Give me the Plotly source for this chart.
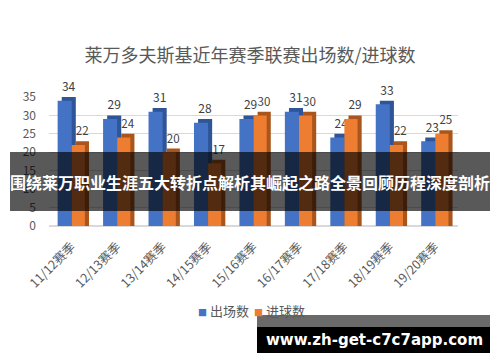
import plotly.graph_objects as go

seasons = ["11/12赛季", "12/13赛季", "13/14赛季", "14/15赛季", "15/16赛季",
           "16/17赛季", "17/18赛季", "18/19赛季", "19/20赛季"]
appearances = [34, 29, 31, 28, 29, 31, 24, 33, 23]
goals = [22, 24, 20, 17, 30, 30, 29, 22, 25]
y_ticks = [0, 5, 10, 15, 20, 25, 30, 35]
series_names = ["出场数", "进球数"]

title_text = "莱万多夫斯基近年赛季联赛出场数/进球数"
banner_text = "围绕莱万职业生涯五大转折点解析其崛起之路全景回顾历程深度剖析"
watermark_text = "www.zh-get-c7c7app.com"

W, H = 500, 362
L, R, T, B = 49, 458, 97, 226

def px(x):
    return (x - L) / (R - L)

def py(y):
    return (B - y) / (B - T)

FONT = "Noto Sans CJK SC, Microsoft YaHei, sans-serif"
GRAY = "#595959"
blue, blue_side = "#4472C4", "#2E5597"
orange, orange_side = "#ED7D31", "#A9551C"

depth_x = 0.09
depth_y = 1.0
w_blue, off_blue = 0.31, -0.31
w_or, off_or = 0.29, 0.0

fig = go.Figure()
fig.add_bar(x=seasons, y=[v + depth_y for v in appearances], width=w_blue,
            offset=off_blue + depth_x, marker=dict(color=blue_side, line_width=0),
            text=[str(v) for v in appearances], textposition="outside",
            textfont=dict(color="#404040", size=12, family=FONT),
            cliponaxis=False, showlegend=False, hoverinfo="skip")
fig.add_bar(x=seasons, y=appearances, width=w_blue, offset=off_blue,
            marker=dict(color=blue, line_width=0), name=series_names[0],
            showlegend=False, hoverinfo="skip")
fig.add_bar(x=seasons, y=[v + depth_y for v in goals], width=w_or,
            offset=off_or + depth_x, marker=dict(color=orange_side, line_width=0),
            text=[str(v) for v in goals], textposition="outside",
            textfont=dict(color="#404040", size=12, family=FONT),
            cliponaxis=False, showlegend=False, hoverinfo="skip")
fig.add_bar(x=seasons, y=goals, width=w_or, offset=off_or,
            marker=dict(color=orange, line_width=0), name=series_names[1],
            showlegend=False, hoverinfo="skip")

shapes = [
    dict(type="rect", xref="paper", yref="paper", x0=px(10), x1=px(490),
         y0=py(211), y1=py(152), fillcolor="rgba(0,0,0,0.65)", line_width=0, layer="above"),
    dict(type="rect", xref="paper", yref="paper", x0=px(257), x1=px(490),
         y0=py(327), y1=py(315), fillcolor="#6a6a6a", line_width=0, layer="above"),
    dict(type="rect", xref="paper", yref="paper", x0=px(257), x1=px(490),
         y0=py(353), y1=py(327), fillcolor="#000000", line_width=0, layer="above"),
]

sq = '<span style="color:%s;font-size:9px">■</span> %s'
annotations = [
    dict(text="<b>" + banner_text + "</b>", xref="paper", yref="paper", x=px(250), y=py(182),
         showarrow=False, xanchor="center", yanchor="middle",
         font=dict(color="white", size=16, family="Noto Sans CJK SC")),
    dict(text="<b>" + watermark_text + "</b>", xref="paper", yref="paper", x=px(374), y=py(340),
         showarrow=False, xanchor="center", yanchor="middle",
         font=dict(color="white", size=15, family="DejaVu Sans")),
    dict(text=sq % (blue, series_names[0]),
         xref="paper", yref="paper", x=px(196), y=py(310), showarrow=False,
         xanchor="left", yanchor="middle", font=dict(size=13, color=GRAY, family=FONT)),
    dict(text=sq % (orange, series_names[1]),
         xref="paper", yref="paper", x=px(252), y=py(310), showarrow=False,
         xanchor="left", yanchor="middle", font=dict(size=13, color=GRAY, family=FONT)),
]

fig.update_layout(
    width=W, height=H,
    margin=dict(l=L, r=W - R, t=T, b=H - B, pad=0, autoexpand=False),
    paper_bgcolor="white", plot_bgcolor="white",
    barmode="overlay",
    title=dict(text=title_text, x=0.5, xref="container", xanchor="center",
               y=1 - 56 / H, yref="container", yanchor="middle",
               font=dict(size=18, color=GRAY, family=FONT)),
    xaxis=dict(tickangle=-45, tickfont=dict(size=12.5, color=GRAY, family=FONT),
               ticklabelstandoff=10,
               showgrid=False, showline=False, ticks="", fixedrange=True, automargin=False),
    yaxis=dict(range=[0, 35], tickvals=y_ticks, showgrid=True, gridcolor="#D9D9D9",
               gridwidth=1, zeroline=True, zerolinecolor="#D9D9D9",
               tickfont=dict(size=12, color=GRAY, family=FONT),
               ticklabelstandoff=12, showline=False, ticks="", fixedrange=True,
               automargin=False),
    shapes=shapes, annotations=annotations,
    showlegend=False,
)

fig.write_html("out.html", config={"displayModeBar": False},
               post_script="document.body.style.margin='0';document.body.style.overflow='hidden';")
